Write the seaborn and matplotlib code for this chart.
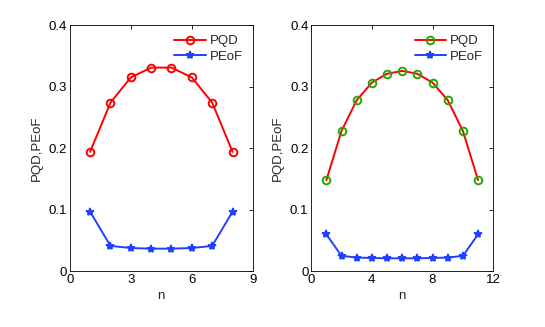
import matplotlib
matplotlib.use("Agg")
import matplotlib.pyplot as plt
import seaborn as sns
import pandas as pd

n_left = [1, 2, 3, 4, 5, 6, 7, 8]
pqd_left = [0.194, 0.274, 0.315, 0.331, 0.331, 0.315, 0.274, 0.194]
peof_left = [0.0966, 0.0410, 0.0375, 0.0365, 0.0365, 0.0375, 0.0410, 0.0966]

n_right = [1, 2, 3, 4, 5, 6, 7, 8, 9, 10, 11]
pqd_right = [0.148, 0.228, 0.278, 0.3066, 0.321, 0.3256, 0.321, 0.3066, 0.278, 0.228, 0.148]
peof_right = [0.0597, 0.0247, 0.0220, 0.0213, 0.0208, 0.0207, 0.0208, 0.0213, 0.0220, 0.0247, 0.0597]

xticks_left = [0, 3, 6, 9]
xticks_right = [0, 4, 8, 12]
yticks = [0, 0.1, 0.2, 0.3, 0.4]
ytick_labels = ["0", "0.1", "0.2", "0.3", "0.4"]

sns.set_style("white")
plt.rcParams['font.family'] = ['Liberation Sans', 'DejaVu Sans']
FS = 9.5
plt.rcParams['font.size'] = FS

fig = plt.figure(figsize=(5.45, 3.27), dpi=100)
ax1 = fig.add_axes([0.128, 0.171, 0.336, 0.752])
ax2 = fig.add_axes([0.571, 0.171, 0.334, 0.752])

def draw(ax, n, pqd, peof, xticks, circle_edge):
    df1 = pd.DataFrame({"n": n, "v": pqd})
    df2 = pd.DataFrame({"n": n, "v": peof})
    sns.lineplot(data=df1, x="n", y="v", ax=ax, color="#ff0000", lw=1.4,
                 marker="o", markersize=5.5, markerfacecolor="none",
                 markeredgecolor=circle_edge, markeredgewidth=1.4, label="PQD")
    sns.lineplot(data=df2, x="n", y="v", ax=ax, color="#2040ff", lw=1.4,
                 marker="*", markersize=6, markerfacecolor="#2040ff",
                 markeredgecolor="#2040ff", markeredgewidth=1.2, label="PEoF")
    ax.set_xlim(xticks[0], xticks[-1])
    ax.set_ylim(0, 0.4)
    ax.set_xticks(xticks)
    ax.set_yticks(yticks)
    ax.set_yticklabels(ytick_labels)
    ax.set_xlabel("n", fontsize=FS, labelpad=3)
    ax.set_ylabel("PQD,PEoF", fontsize=FS, labelpad=4)
    ax.tick_params(direction="in", length=3, width=0.6, top=True, right=True,
                   labelsize=FS, pad=2, colors="black")
    for s in ax.spines.values():
        s.set_color("black")
        s.set_linewidth(0.6)
    ax.legend(loc="upper right", frameon=False, fontsize=FS,
              handlelength=2.4, borderaxespad=0.35, labelspacing=0.25,
              handletextpad=0.3)

draw(ax1, n_left, pqd_left, peof_left, xticks_left, "#ff0000")
draw(ax2, n_right, pqd_right, peof_right, xticks_right, "#22aa00")

fig.savefig("out.png", dpi=100)
